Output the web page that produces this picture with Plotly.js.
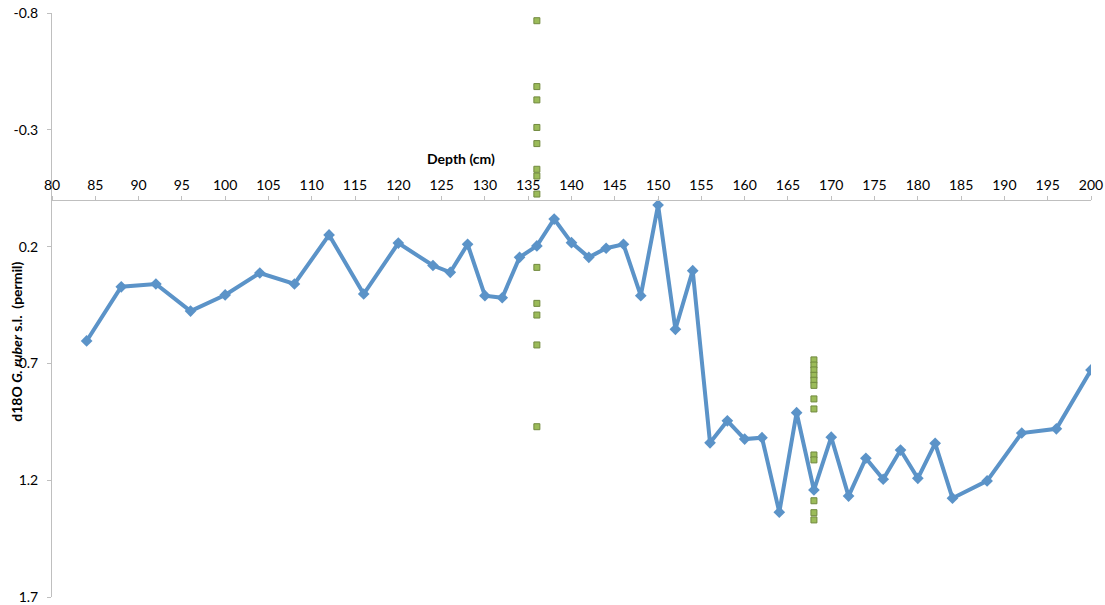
<!DOCTYPE html>
<html>
<head>
<meta charset="utf-8">
<script src="https://cdn.plot.ly/plotly-3.0.1.min.js"></script>
<style>html,body{margin:0;padding:0;background:#fff;}#chart{width:1105px;height:605px;}</style>
</head>
<body>
<div id="chart"></div>
<script>
// Blue series: depth (cm) and d18O G. ruber s.l. (permil)
const depth = [84, 88, 92, 96, 100, 104, 108, 112, 116, 120, 124, 126, 128, 130, 132, 134, 136, 138, 140, 142, 144, 146, 148, 150, 152, 154, 156, 158, 160, 162, 164, 166, 168, 170, 172, 174, 176, 178, 180, 182, 184, 188, 192, 196, 200];
const d18O = [0.604, 0.372, 0.36, 0.476, 0.407, 0.313, 0.36, 0.15, 0.403, 0.185, 0.281, 0.31, 0.19, 0.41, 0.419, 0.246, 0.197, 0.082, 0.183, 0.246, 0.207, 0.19, 0.41, 0.022, 0.554, 0.303, 1.04, 0.946, 1.024, 1.018, 1.337, 0.911, 1.242, 1.016, 1.268, 1.106, 1.196, 1.071, 1.192, 1.042, 1.277, 1.203, 0.998, 0.98, 0.728];

// Green series: individual measurements at 136 cm and 168 cm
const depth136 = [136, 136, 136, 136, 136, 136, 136, 136, 136, 136, 136, 136, 136];
const vals136 = [-0.767, -0.485, -0.428, -0.310, -0.241, -0.131, -0.102, -0.025, 0.289, 0.443, 0.493, 0.621, 0.971];
const depth168 = [168, 168, 168, 168, 168, 168, 168, 168, 168, 168, 168, 168, 168];
const vals168 = [0.685, 0.707, 0.728, 0.751, 0.772, 0.794, 0.852, 0.895, 1.092, 1.113, 1.288, 1.339, 1.370];

const yTicks = [-0.8, -0.3, 0.2, 0.7, 1.2, 1.7];
const xTicks = [80, 85, 90, 95, 100, 105, 110, 115, 120, 125, 130, 135, 140, 145, 150, 155, 160, 165, 170, 175, 180, 185, 190, 195, 200];

const font = {family: 'Lato, "Open Sans", sans-serif', size: 14, color: '#000'};
const titleFont = {family: 'Lato, "Open Sans", sans-serif', size: 14, color: '#000'};

const traces = [
  {
    x: depth136.concat(depth168),
    y: vals136.concat(vals168),
    type: 'scatter', mode: 'markers',
    marker: {symbol: 'square', size: 6, color: '#9bbb59', line: {color: '#71893f', width: 1}},
    hoverinfo: 'x+y'
  },
  {
    x: depth, y: d18O,
    type: 'scatter', mode: 'lines+markers',
    line: {color: '#5b93c8', width: 4},
    marker: {symbol: 'diamond', size: 9, color: '#5b93c8'},
    hoverinfo: 'x+y'
  }
];

const layout = {
  width: 1105, height: 605,
  margin: {l: 52, r: 14, t: 13, b: 8},
  paper_bgcolor: '#fff', plot_bgcolor: '#fff',
  showlegend: false,
  font: font,
  xaxis: {
    range: [80, 200], tickvals: xTicks, ticktext: xTicks.map(String),
    anchor: 'free', position: 0.68, side: 'top',
    showline: true, linecolor: '#bfbfbf', linewidth: 1,
    ticks: 'outside', ticklen: 4, tickcolor: '#bfbfbf',
    showgrid: false, zeroline: false, tickfont: font
  },
  yaxis: {
    range: [1.7, -0.8], tickvals: yTicks, ticktext: yTicks.map(String),
    showline: true, linecolor: '#bfbfbf', linewidth: 1,
    ticks: 'outside', ticklen: 4, tickcolor: '#bfbfbf', ticklabelstandoff: 6,
    showgrid: false, zeroline: false, tickfont: font
  },
  annotations: [
    {text: '<b>Depth (cm)</b>', xref: 'x', yref: 'y', x: 127.25, y: -0.179,
     showarrow: false, xanchor: 'center', yanchor: 'middle', font: titleFont},
    {text: '<b>d18O <i>G. ruber</i> s.l.  (permil)</b>', xref: 'paper', yref: 'paper',
     x: -0.0337, y: 0.437, textangle: -90, showarrow: false,
     xanchor: 'center', yanchor: 'middle', font: titleFont}
  ]
};

Plotly.newPlot('chart', traces, layout, {displayModeBar: false, staticPlot: true});
</script>
</body>
</html>
